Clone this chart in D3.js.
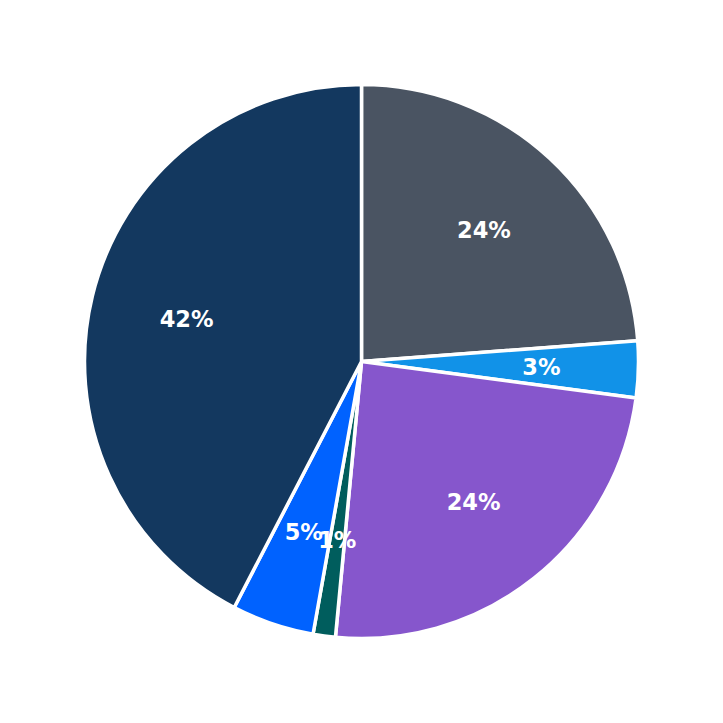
<!DOCTYPE html>
<html>
<head>
<meta charset="utf-8">
<script src="https://cdn.jsdelivr.net/npm/d3@7"></script>
<style>
  html, body { margin: 0; padding: 0; background: #fff; }
</style>
</head>
<body>
<svg id="pie" width="723" height="723"></svg>
<script>
(function () {
    const categories = ["A", "B", "C", "D", "E", "F"];
    const values = [23.8, 3.3, 24.4, 1.3, 4.8, 42.4];
    const labels = ["24%", "3%", "24%", "1%", "5%", "42%"];
    const colors = ["#4a5462", "#1192e8", "#8656cc", "#005d5d", "#0062ff", "#13385f"];

    const width = 723, height = 723;
    const radius = 277;

    const svg = d3.select("#pie");
    const chart = svg.append("g")
        .attr("transform", `translate(${width / 2}, ${height / 2})`);

    const pie = d3.pie().sort(null).value((d) => d.value);
    const arcs = pie(categories.map((c, i) => ({ name: c, value: values[i], label: labels[i] })));

    const arc = d3.arc().innerRadius(0).outerRadius(radius);
    const labelArc = d3.arc().innerRadius(180).outerRadius(180);

    chart.selectAll("path")
        .data(arcs)
        .enter()
        .append("path")
        .attr("d", arc)
        .attr("fill", (d, i) => colors[i])
        .attr("stroke", "#fff")
        .attr("stroke-width", 3.5)
        .attr("stroke-linejoin", "round");

    chart.selectAll("text")
        .data(arcs)
        .enter()
        .append("text")
        .attr("transform", (d) => `translate(${labelArc.centroid(d)})`)
        .attr("text-anchor", "middle")
        .attr("dominant-baseline", "central")
        .style("font-family", "DejaVu Sans, sans-serif")
        .style("font-weight", "bold")
        .style("font-size", "22.5px")
        .style("fill", "#fff")
        .text((d) => d.data.label);
})();
</script>
</body>
</html>
